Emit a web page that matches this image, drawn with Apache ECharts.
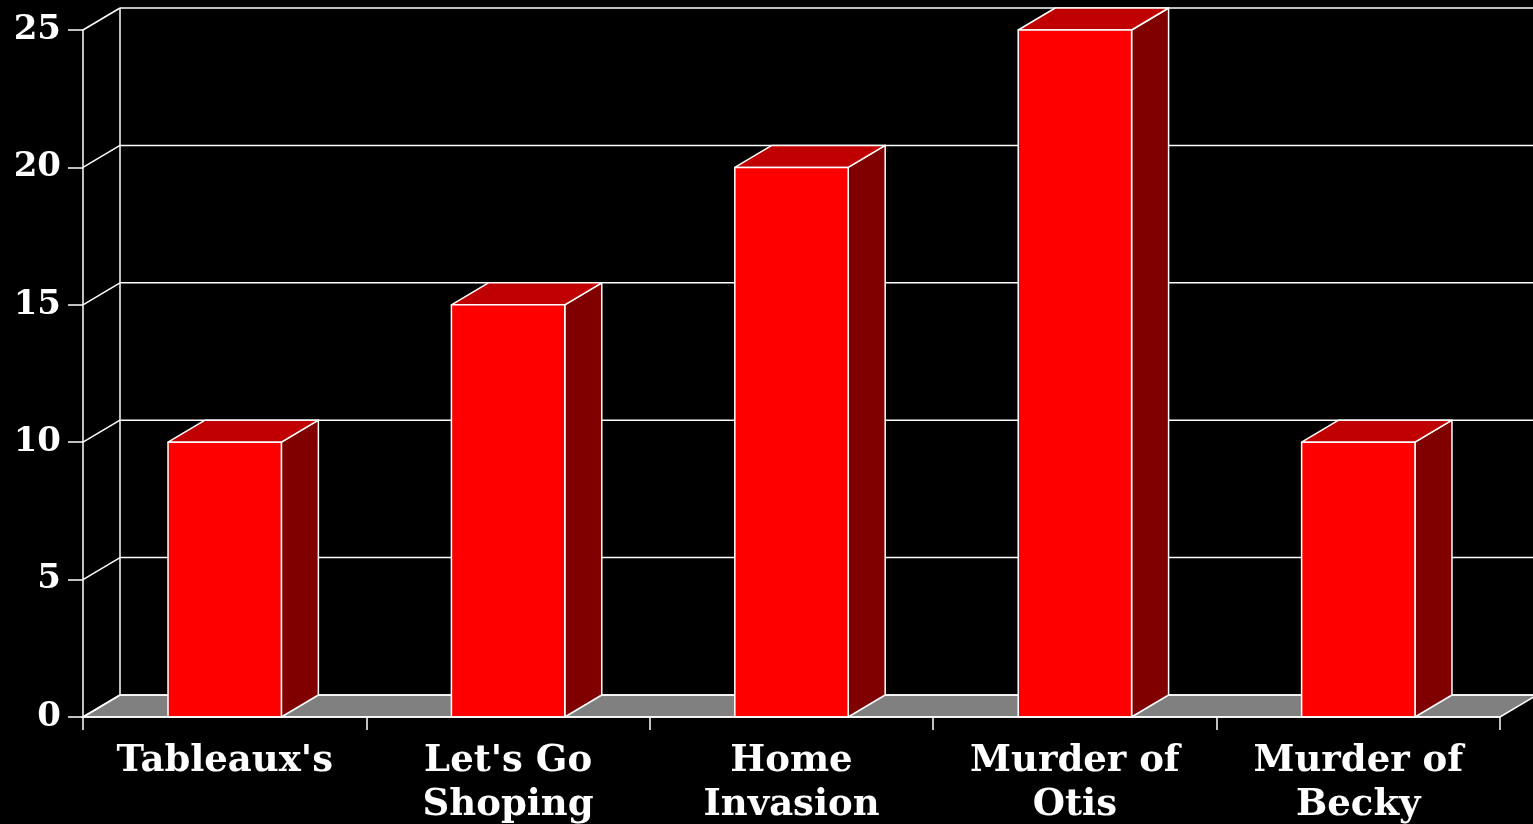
<!DOCTYPE html>
<html>
<head>
<meta charset="utf-8">
<script src="https://cdn.jsdelivr.net/npm/echarts@6/dist/echarts.min.js"></script>
<style>
html,body{margin:0;padding:0;background:#000;}
#chart{width:1533px;height:824px;}
</style>
</head>
<body>
<div id="chart"></div>
<script>
var categories = ["Tableaux's", "Let's Go\nShoping", "Home\nInvasion", "Murder of\nOtis", "Murder of\nBecky"];
var values = [10, 15, 20, 25, 10];
var yTicks = [0, 5, 10, 15, 20, 25];

var DX = 37, DY = -22;
var FONT = 'DejaVu Serif';

var chart = echarts.init(document.getElementById('chart'));

function renderFrame(params, api) {
  var cs = params.coordSys;
  var x0 = cs.x, x1 = cs.x + cs.width;
  var children = [];
  var lineStyle = {stroke: '#fff', lineWidth: 1.5};
  var y0 = api.coord([0, 0])[1];
  // floor
  children.push({type: 'polygon', shape: {points: [[x0, y0], [x1, y0], [x1 + DX, y0 + DY], [x0 + DX, y0 + DY]]},
    style: {fill: '#808080', stroke: '#fff', lineWidth: 1.5}});
  // back wall grid lines and left wall diagonals
  yTicks.forEach(function (t) {
    var y = api.coord([0, t])[1];
    children.push({type: 'line', shape: {x1: x0 + DX, y1: y + DY, x2: x1 + DX, y2: y + DY}, style: lineStyle});
    children.push({type: 'line', shape: {x1: x0, y1: y, x2: x0 + DX, y2: y + DY}, style: lineStyle});
  });
  var yTop = api.coord([0, yTicks[yTicks.length - 1]])[1];
  children.push({type: 'line', shape: {x1: x0 + DX, y1: y0 + DY, x2: x0 + DX, y2: yTop + DY}, style: lineStyle});
  return {type: 'group', children: children};
}

function renderBar(params, api) {
  var c = api.coord([api.value(0), api.value(1)]);
  var base = api.coord([api.value(0), 0]);
  var w = api.size([1, 0])[0] * 0.4;
  var xa = c[0] - w / 2, xb = c[0] + w / 2;
  var yt = c[1], yb = base[1];
  var st = {stroke: '#fff', lineWidth: 1.5, lineJoin: 'round'};
  return {type: 'group', children: [
    {type: 'polygon', shape: {points: [[xb, yt], [xb + DX, yt + DY], [xb + DX, yb + DY], [xb, yb]]},
      style: Object.assign({fill: '#800000'}, st)},
    {type: 'polygon', shape: {points: [[xa, yt], [xb, yt], [xb + DX, yt + DY], [xa + DX, yt + DY]]},
      style: Object.assign({fill: '#c00000'}, st)},
    {type: 'rect', shape: {x: xa, y: yt, width: w, height: yb - yt},
      style: Object.assign({fill: '#ff0000'}, st)}
  ]};
}

chart.setOption({
  backgroundColor: '#000',
  animation: false,
  grid: {left: 83, right: 33, top: 30, bottom: 107, containLabel: false, outerBoundsMode: 'none'},
  xAxis: {
    type: 'category',
    data: categories,
    z: 10,
    axisLine: {lineStyle: {color: '#fff', width: 1.5}},
    axisTick: {show: true, interval: 0, length: 13, lineStyle: {color: '#fff', width: 1.5}},
    axisLabel: {color: '#fff', fontFamily: FONT, fontWeight: 'bold', fontSize: 37, lineHeight: 44, margin: 22, interval: 0},
    splitLine: {show: false}
  },
  yAxis: {
    type: 'value',
    min: 0, max: 25, interval: 5,
    axisLine: {show: true, lineStyle: {color: '#fff', width: 1.5}},
    axisTick: {show: true, length: 15, lineStyle: {color: '#fff', width: 1.5}},
    axisLabel: {color: '#fff', fontFamily: FONT, fontWeight: 'bold', fontSize: 34, margin: 22},
    splitLine: {show: false}
  },
  series: [
    {type: 'custom', renderItem: renderFrame, data: [0], z: 1, silent: true},
    {type: 'custom', renderItem: renderBar, encode: {x: 0, y: 1},
      data: values.map(function (v, i) { return [i, v]; }), z: 3}
  ]
});
</script>
</body>
</html>
